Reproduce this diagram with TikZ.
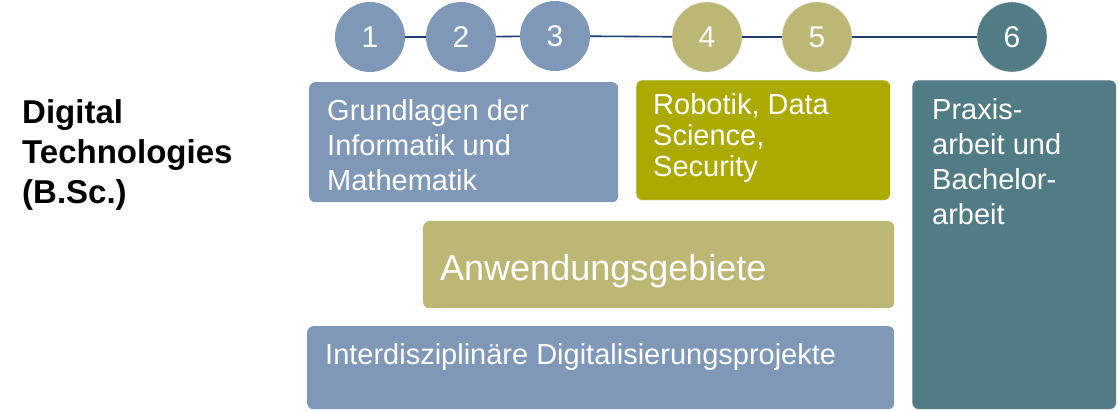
\documentclass[tikz,border=0pt]{standalone}
\usepackage{fontspec}
\setmainfont{Liberation Sans}
\usetikzlibrary{positioning}
\definecolor{semblue}{HTML}{7F98B8}
\definecolor{semolive}{HTML}{ACAA00}
\definecolor{semkhaki}{HTML}{BDB776}
\definecolor{semteal}{HTML}{527C85}
\definecolor{timeline}{HTML}{1F3F73}
\definecolor{rimgray}{HTML}{E6E6E6}

\begin{document}
\begin{tikzpicture}[x=1pt, y=-1pt,
    sem/.style={circle, minimum size=70pt, inner sep=0pt, text=white, font=\fontsize{30}{34}\selectfont},
    box/.style={rectangle, rounded corners=6pt, inner sep=0pt, anchor=north west},
    boxtext/.style={anchor=north west, inner sep=0pt, align=left, text=white, font=\fontsize{29}{35}\selectfont}]
    \useasboundingbox (0,0) rectangle (1119,411);

    % Title
    \node[anchor=north west, inner sep=0pt, align=left, font=\bfseries\fontsize{33}{40}\selectfont] (title) at (22,99) {Digital\\Technologies\\(B.Sc.)};

    % Semester
    \node[sem, fill=semblue] (s1) at (370,37) {1};
    \node[sem, fill=semblue] (s2) at (461,37) {2};
    \node[sem, fill=semblue] (s3) at (555,36) {3};
    \node[sem, fill=semkhaki, draw=rimgray] (s4) at (707,37) {4};
    \node[sem, fill=semkhaki, draw=rimgray] (s5) at (817,37) {5};
    \node[sem, fill=semteal, draw=rimgray] (s6) at (1012,37) {6};

    \draw[timeline, line width=1.6pt] (s1) -- (s2);
    \draw[timeline, line width=1.6pt] (s2) -- (s3);
    \draw[timeline, line width=1.6pt] (s3) -- (s4);
    \draw[timeline, line width=1.6pt] (s4) -- (s5);
    \draw[timeline, line width=1.6pt] (s5) -- (s6);

    % Module
    \node[box, fill=semblue, minimum width=309pt, minimum height=120pt] (grund) at (309,82) {};
    \node[boxtext] (grundtxt) at ([xshift=18pt, yshift=-17pt]grund.north west) {Grundlagen der\\Informatik und\\Mathematik};

    \node[box, fill=semolive, draw=rimgray, minimum width=254pt, minimum height=120pt] (robo) at (636,80) {};
    \node[boxtext, font=\fontsize{29}{31}\selectfont] (robotxt) at ([xshift=17pt, yshift=-13pt]robo.north west) {Robotik, Data\\Science,\\Security};

    \node[box, fill=semkhaki, minimum width=471pt, minimum height=87pt] (anw) at (423,221) {};
    \node[boxtext, font=\fontsize{36}{40}\selectfont] (anwtxt) at ([xshift=17pt, yshift=-33pt]anw.north west) {Anwendungsgebiete};

    \node[box, fill=semblue, minimum width=587pt, minimum height=83pt] (projekt) at (307,326) {};
    \node[boxtext] (projekttxt) at ([xshift=18pt, yshift=-17pt]projekt.north west) {Interdisziplinäre Digitalisierungsprojekte};

    \node[box, fill=semteal, draw=rimgray, minimum width=204pt, minimum height=329pt] (praxis) at (912,80) {};
    \node[boxtext] (praxistxt) at ([xshift=20pt, yshift=-18pt]praxis.north west) {Praxis-\\arbeit und\\Bachelor-\\arbeit};
\end{tikzpicture}
\end{document}
